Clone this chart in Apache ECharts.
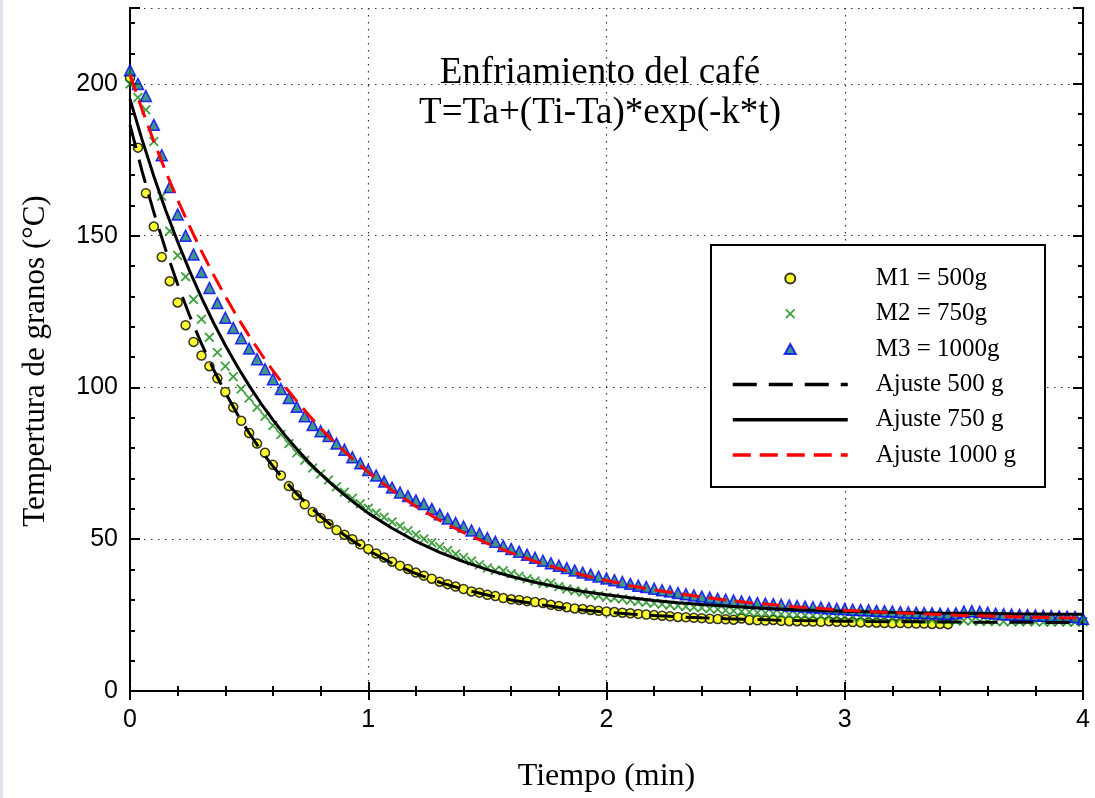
<!DOCTYPE html>
<html>
<head>
<meta charset="utf-8">
<script src="https://cdn.jsdelivr.net/npm/echarts@6/dist/echarts.min.js"></script>
<style>html,body{margin:0;padding:0;background:#fff;}#c{width:1095px;height:798px;}</style>
</head>
<body>
<div id="c"></div>
<script>
// sample times (seconds)
const timesSec = [0,2,4,6,8,10,12,14,16,18,20,22,24,26,28,30,32,34,36,38,40,42,44,46,48,50,52,54,56,58,60,62,64,66,68,70,72,74,76,78,80,82,84,86,88,90,92,94,96,98,100,102,104,106,108,110,112,114,116,118,120,122,124,126,128,130,132,134,136,138,140,142,144,146,148,150,152,154,156,158,160,162,164,166,168,170,172,174,176,178,180,182,184,186,188,190,192,194,196,198,200,202,204,206,208,210,212,214,216,218,220,222,224,226,228,230,232,234,236,238,240];

const m1 = [202,179,164,153,143,135,128,120.5,115,110.5,
107,103,98.5,93.5,89,85,81.5,78.5,74.5,71,
67.5,64.5,61.5,59,57,55,53,51.5,50,48.3,
46.8,45.3,44,42.6,41.3,40.2,39,38,37,36,
35.2,34.4,33.6,32.8,32.4,31.7,31.3,30.6,30.2,30,
29.6,29.3,29,28.4,28,27.6,27.2,27,26.7,26.4,
26.2,26,25.8,25.6,25.4,25.2,25,24.8,24.6,24.4,
24.3,24.1,24,23.8,23.7,23.6,23.5,23.9,23.4,23.3,
23.2,23.4,23.1,23,23,22.9,22.9,22.8,23,22.8,
22.7,22.7,22.6,22.6,22.5,22.4,22.3,22.4,22.3,22.2,
22.2,22.1,22.1,22.0];

const m2 = [200,195.5,191.5,181,163,151.5,143.5,136.5,129,122.5,
116.5,111.5,107,103.5,99.5,96.5,93.5,90.5,87.5,84.5,
81.5,78.5,76,73.5,71.5,69.5,67.3,65.5,63.5,61.7,
60.2,58.6,57.2,55.7,54.3,52.8,51.5,50.1,48.8,47.5,
46.3,45.1,44,42.8,41.6,40.5,39.8,39.6,38.6,37.8,
37,36.2,35.4,35.6,34.4,33.6,33,32.5,31.9,31.4,
30.9,30.6,30.3,29.9,29.5,29.2,28.9,28.6,28.3,28.1,
27.8,27.6,27.4,27.1,26.9,26.6,26.4,26.2,26,25.8,
25.7,25.5,25.3,25.2,25,24.9,24.8,24.7,24.5,24.4,
24.3,24.2,24.1,24,23.9,23.8,23.7,23.7,23.6,23.5,
23.4,23.4,23.3,23.2,23.1,23.2,23.1,23,23,22.9,
22.9,22.8,22.8,22.9,22.8,22.7,22.7,22.8,22.7,22.7,22.8];

const m3 = [204.5,200,196,186.5,176.5,166,157,150,143.8,138,
132.8,127.8,123,119.6,116.2,112.8,109.3,106,102.7,99.5,
96.5,93.6,90.5,87.6,85.6,84,81.5,79.5,77,75,
72.8,71,69,67,65.4,64.2,62.8,61.6,60,58.2,
56.8,55.4,54.2,52.9,51.8,50.4,49.2,47.8,46.8,45.9,
44.9,43.9,42.9,42.1,41.3,40.5,39.7,39,38.4,37.7,
37.1,36.5,35.9,35.3,34.7,34.3,33.7,33.2,32.8,32.3,
31.9,31.5,31.1,30.8,30.4,30.1,29.8,29.5,29.3,29,
28.8,28.6,28.4,28.2,28,27.8,27.6,27.5,27.3,27.1,
27,26.8,26.7,26.6,26.4,26.3,26.2,26,25.9,25.8,
25.7,25.6,25.5,25.4,25.6,26.2,26.3,26.1,25.8,25.5,
25.3,25.2,25.1,25,24.9,24.8,24.7,24.6,24.5,24.4,23.8];

// fitted curves (min)
const fitTimes = [0,0.05,0.1,0.15,0.2,0.25,0.3,0.35,0.4,0.45,0.5,0.55,0.6,0.65,0.7,0.75,0.8,0.85,0.9,0.95,1.0,
1.1,1.2,1.3,1.4,1.5,1.6,1.7,1.8,1.9,2.0,2.1,2.2,2.3,2.4,2.5,2.6,2.7,2.8,2.9,3.0,3.1,3.2,3.3,3.4,3.5,3.6,3.7,3.8,3.9,4.0];
const fit500 = [186.5,171.4,157.7,145.3,134.0,123.7,114.4,106.0,98.3,91.3,85.0,79.2,74.0,69.3,65.0,61.1,57.5,54.3,51.4,48.7,46.3,
42.1,38.7,35.8,33.5,31.6,30.0,28.7,27.6,26.7,26.0,25.35,24.85,24.44,24.1,23.82,23.59,23.4,23.24,23.11,23.0,22.91,22.84,22.78,22.73,22.69,22.66,22.63,22.61,22.59,22.57];
const fit750 = [195,181.8,169.6,158.3,148.0,138.4,129.6,121.4,113.9,107.0,100.6,94.7,89.3,84.3,79.7,75.4,71.5,67.9,64.6,61.5,58.6,
53.6,49.3,45.7,42.6,40.0,37.7,35.8,34.2,32.8,31.7,30.7,29.8,29.1,28.5,28.0,27.5,27.1,26.8,26.55,26.31,26.12,25.95,25.81,25.69,25.59,25.5,25.42,25.36,25.31,25.26];
const fit1000 = [203,191.7,181.1,171.1,161.8,153.1,144.9,137.2,130.0,123.3,117.0,111.1,105.5,100.3,95.5,90.9,86.6,82.6,78.9,75.3,72.1,
66.1,60.8,56.2,52.2,48.6,45.5,42.7,40.3,38.2,36.4,34.7,33.3,32.1,31.0,30.0,29.1,28.4,27.7,27.2,26.6,26.2,25.8,25.5,25.2,24.9,24.7,24.5,24.3,24.1,24.0];

const seriesNames = ['M1 = 500g','M2 = 750g','M3 = 1000g','Ajuste 500 g','Ajuste 750 g','Ajuste 1000 g'];
const titleLines = ['Enfriamiento del café','T=Ta+(Ti-Ta)*exp(-k*t)'];
const xName = 'Tiempo (min)';
const yName = 'Tempertura de granos (°C)';

const toPts = (vals, ts) => vals.map((v,i) => [ts[i], v]);
const minutes = timesSec.map(s => s / 60);

const chart = echarts.init(document.getElementById('c'), null, {renderer:'canvas'});

const axisLineStyle = {lineStyle:{color:'#000', width:2}};
const tickStyle = {color:'#000', width:2};
const gridDots = {color:'#333', width:1.2, type:[1.5,5.5]};
const xPath = 'path://M0,1.3L1.3,0L5,3.7L8.7,0L10,1.3L6.3,5L10,8.7L8.7,10L5,6.3L1.3,10L0,8.7L3.7,5Z';
const triPath = 'path://M5,0L10,9L0,9Z';

const yMajorBase = {type:'value', min:0, max:225, interval:50, axisLine:{show:true, ...axisLineStyle},
  axisTick:{show:true, inside:true, length:10, lineStyle:tickStyle}};
const yMinorBase = {type:'value', min:0, max:225, interval:10, axisLine:{show:true, ...axisLineStyle},
  axisTick:{show:true, inside:true, length:5, lineStyle:tickStyle}, axisLabel:{show:false}, splitLine:{show:false}};

const option = {
  animation:false,
  backgroundColor:'#fff',
  grid:{left:130, right:12, top:8, bottom:105, containLabel:false},
  xAxis:[
    {type:'value', min:0, max:4, interval:1, position:'bottom',
     axisLine:{show:true, ...axisLineStyle},
     axisTick:{show:true, inside:true, length:9, lineStyle:tickStyle},
     minorTick:{show:true, splitNumber:5, length:5, lineStyle:tickStyle},
     splitLine:{show:true, lineStyle:gridDots},
     axisLabel:{fontFamily:'Liberation Sans', fontSize:25, color:'#000', margin:17},
     name:xName, nameLocation:'middle', nameGap:70,
     nameTextStyle:{fontFamily:'Liberation Serif', fontSize:32, color:'#000'}},
    {type:'value', min:0, max:4, interval:1, position:'top',
     axisLine:{show:true, ...axisLineStyle},
     axisTick:{show:true, inside:true, length:9, lineStyle:tickStyle},
     minorTick:{show:true, splitNumber:5, length:5, lineStyle:tickStyle},
     splitLine:{show:false}, axisLabel:{show:false}}
  ],
  yAxis:[
    Object.assign({}, yMajorBase, {position:'left',
      splitLine:{show:true, lineStyle:gridDots},
      axisLabel:{fontFamily:'Liberation Sans', fontSize:25, color:'#000', margin:12,
        formatter: v => (v > 200 ? '' : String(v))}}),
    Object.assign({}, yMinorBase, {position:'left'}),
    Object.assign({}, yMajorBase, {position:'right', splitLine:{show:false}, axisLabel:{show:false}}),
    Object.assign({}, yMinorBase, {position:'right'})
  ],
  legend:{
    orient:'vertical', left:726, top:261, padding:5,
    itemWidth:115, itemHeight:10, itemGap:10.3,
    selectedMode:false, z:10,
    lineStyle:{width:3.5},
    textStyle:{fontFamily:'Liberation Serif', fontSize:25, lineHeight:24, color:'#000', padding:[0,0,0,23]},
    data:[
      {name:seriesNames[0]},
      {name:seriesNames[1]},
      {name:seriesNames[2], icon:triPath},
      {name:seriesNames[3], itemStyle:{opacity:0}},
      {name:seriesNames[4], itemStyle:{opacity:0}},
      {name:seriesNames[5], itemStyle:{opacity:0}}
    ]
  },
  graphic:[
    {type:'rect', z:0, shape:{x:0, y:0, width:3, height:798}, style:{fill:'#dde2ed'}},
    {type:'rect', z:5, shape:{x:711, y:245, width:334, height:242}, style:{fill:'#fff', stroke:'#000', lineWidth:2}},
    {type:'text', z:5, style:{text:titleLines[0], x:600, y:73, textAlign:'center', textVerticalAlign:'middle',
      fontFamily:'Liberation Serif', fontSize:37, fill:'#000'}},
    {type:'text', z:5, style:{text:titleLines[1], x:600, y:113, textAlign:'center', textVerticalAlign:'middle',
      fontFamily:'Liberation Serif', fontSize:37, fill:'#000'}},
    {type:'text', z:5, x:36, y:361, rotation:Math.PI/2,
     style:{text:yName, x:0, y:0, textAlign:'center', textVerticalAlign:'middle',
      fontFamily:'Liberation Serif', fontSize:31, fill:'#000'}}
  ],
  series:[
    {name:seriesNames[0], type:'scatter', data:toPts(m1, minutes), symbol:'circle', symbolSize:9,
     itemStyle:{color:'#ffff00', borderColor:'#000', borderWidth:1.5}},
    {name:seriesNames[1], type:'scatter', data:toPts(m2, minutes), symbol:xPath, symbolSize:10,
     itemStyle:{color:'#138a13'}},
    {name:seriesNames[2], type:'scatter', data:toPts(m3, minutes), symbol:'triangle', symbolSize:11,
     itemStyle:{color:'#137a6c', borderColor:'#0000ff', borderWidth:1.5}},
    {name:seriesNames[3], type:'line', data:toPts(fit500, fitTimes), symbol:'none', smooth:false,
     lineStyle:{color:'#000', width:3, type:[24,12]}, itemStyle:{color:'#000'}},
    {name:seriesNames[4], type:'line', data:toPts(fit750, fitTimes), symbol:'none', smooth:false,
     lineStyle:{color:'#000', width:3, type:'solid'}, itemStyle:{color:'#000'}},
    {name:seriesNames[5], type:'line', data:toPts(fit1000, fitTimes), symbol:'none', smooth:false,
     lineStyle:{color:'#ff0000', width:3, type:[18,9]}, itemStyle:{color:'#ff0000'}}
  ]
};
chart.setOption(option);
</script>
</body>
</html>
